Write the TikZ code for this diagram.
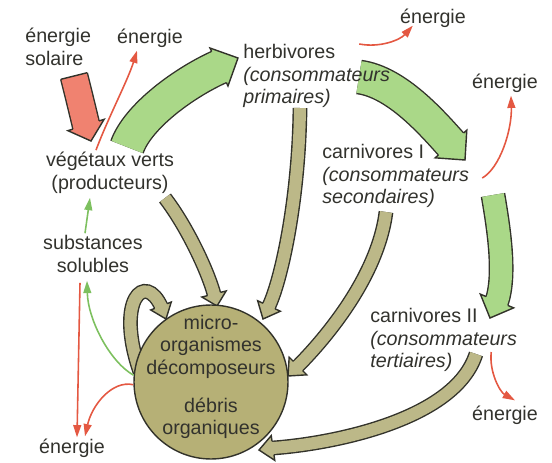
\documentclass[tikz,border=0pt]{standalone}
\usepackage{fontspec}
\setmainfont{Liberation Sans}
\usetikzlibrary{arrows.meta, calc, positioning, backgrounds}

\definecolor{ink}{RGB}{50,50,45}
\definecolor{edge}{RGB}{50,50,42}
\definecolor{leaf}{RGB}{170,216,136}
\definecolor{humus}{RGB}{188,184,136}
\definecolor{soil}{RGB}{182,176,118}
\definecolor{sun}{RGB}{240,130,112}
\definecolor{heat}{RGB}{228,88,66}
\definecolor{sap}{RGB}{125,192,95}

\newcommand{\fatarrow}[8]{%
  \pgfmathsetlengthmacro{\fathalf}{#2/2+0.4pt}%
  \draw[line width=0.8pt, draw=edge, double=#1, double distance=#2, shorten >=-1pt]
    (#4) .. controls (#5) and (#6) .. (#7);
  \fill[#1] ($(#7)!#3!90:(#8)$) -- (#8) -- ($(#7)!#3!-90:(#8)$) -- cycle;
  \draw[line width=0.8pt, draw=edge, line join=miter]
    ($(#7)!\fathalf!90:(#8)$) -- ($(#7)!#3!90:(#8)$) -- (#8)
    -- ($(#7)!#3!-90:(#8)$) -- ($(#7)!\fathalf!-90:(#8)$);
}

\begin{document}
\begin{tikzpicture}[x=0.02cm, y=-0.02cm,
    every node/.style={inner sep=0pt, text=ink, font=\fontsize{11.2}{12.8}\selectfont},
    heatflow/.style={draw=heat, line width=0.9pt, -{Triangle[length=7pt,width=4.5pt]}},
    sapflow/.style={draw=sap, line width=0.9pt, -{Triangle[length=7pt,width=4.5pt]}}
  ]
  \useasboundingbox (0,0) rectangle (552,463);

  \node[anchor=west, align=left] (solaire) at (25,47) {énergie\\solaire};
  \node (e1) at (150,38) {énergie};
  \node[align=center] (veg) at (110,173) {végétaux verts\\(producteurs)};
  \node[anchor=west, align=left] (herb) at (243,76) {herbivores\\\textit{(consommateurs}\\\textit{primaires)}};
  \node (e2) at (433,18) {énergie};
  \node[anchor=west, align=left] (carn1) at (322,176) {carnivores I\\\textit{(consommateurs}\\\textit{secondaires)}};
  \node (e3) at (505,83) {énergie};
  \node[anchor=west, align=left] (carn2) at (370,340) {carnivores II\\\textit{(consommateurs}\\\textit{tertiaires)}};
  \node (e4) at (505,415) {énergie};
  \node[align=center] (subst) at (93,254) {substances\\solubles};
  \node (e5) at (72,448) {énergie};

  \node[circle, draw=edge, fill=soil, line width=0.8pt, minimum size=3.08cm] (deco) at (211,382) {};
  \node[align=center] (decotext) at (211,377) {micro-\\organismes\\décomposeurs\\[9pt]débris\\organiques};

  \coordinate (sunin) at (74,76);   \coordinate (sunout) at (91,141);
  \coordinate (eat1in) at (127,147); \coordinate (eat1out) at (238,58);
  \coordinate (eat2in) at (359,77);  \coordinate (eat2out) at (465,160);
  \coordinate (eat3in) at (493,195); \coordinate (eat3out) at (490,318);
  \coordinate (rot1in) at (165,198); \coordinate (rot1out) at (217,306);
  \coordinate (rot2in) at (300,108); \coordinate (rot2out) at (263,319);
  \coordinate (rot3in) at (386,212); \coordinate (rot3out) at (288,376);
  \coordinate (rot4in) at (476,354); \coordinate (rot4out) at (259,450);
  \coordinate (loopin) at (140,372); \coordinate (loopout) at (166,319);

  \begin{pgfonlayer}{background}
    \fatarrow{sun}{0.52cm}{0.38cm}{sunin}{78,92}{82,108}{86,125}{sunout}
    \draw[edge, line width=0.8pt] ($(sunin)!0.27cm!90:(78,92)$) -- ($(sunin)!0.27cm!-90:(78,92)$);
    \fatarrow{leaf}{0.66cm}{0.42cm}{eat1in}{138,116}{185,82}{219,67}{eat1out}
    \fatarrow{leaf}{0.64cm}{0.42cm}{eat2in}{397,82}{433,124}{451,144}{eat2out}
    \fatarrow{leaf}{0.44cm}{0.36cm}{eat3in}{499,230}{506,276}{497,301}{eat3out}
    \fatarrow{humus}{0.24cm}{0.25cm}{rot1in}{188,228}{209,274}{214,294}{rot1out}
    \fatarrow{humus}{0.24cm}{0.25cm}{rot2in}{299,200}{281,282}{269,306}{rot2out}
    \fatarrow{humus}{0.24cm}{0.25cm}{rot3in}{378,275}{328,336}{298,366}{rot3out}
    \fatarrow{humus}{0.24cm}{0.25cm}{rot4in}{455,420}{332,444}{273,448}{rot4out}
    \fatarrow{humus}{0.24cm}{0.22cm}{loopin}{115,300}{145,270}{161,306}{loopout}
  \end{pgfonlayer}

  \draw[heatflow] ([shift={(-14,-2)}]veg.north) .. controls (108,118) and (128,80) .. ([shift={(-13,3)}]e1.south);
  \draw[heatflow] ([shift={(-31,0)}]herb.north east) .. controls (380,48) and (400,40) .. ([shift={(13,-2)}]e2.south west);
  \draw[heatflow] ([shift={(13,2)}]carn1.east) .. controls (500,168) and (512,130) .. ([shift={(6,3)}]e3.south);
  \draw[heatflow] ([shift={(-26,12)}]carn2.east) .. controls (489,372) and (500,392) .. ([shift={(10,-5)}]e4.north);
  \draw[sapflow] ([shift={(-8,-2)}]subst.north) -- ([shift={(-20,4)}]veg.south);
  \draw[sapflow] (deco.175) .. controls (110,362) and (88,320) .. ([shift={(-6,8)}]subst.south);
  \draw[heatflow] ([shift={(-13,10)}]subst.south) -- ([shift={(5,-1)}]e5.north);
  \draw[heatflow] (deco.182) .. controls (112,380) and (92,405) .. ([shift={(13,-2)}]e5.north);
\end{tikzpicture}
\end{document}
